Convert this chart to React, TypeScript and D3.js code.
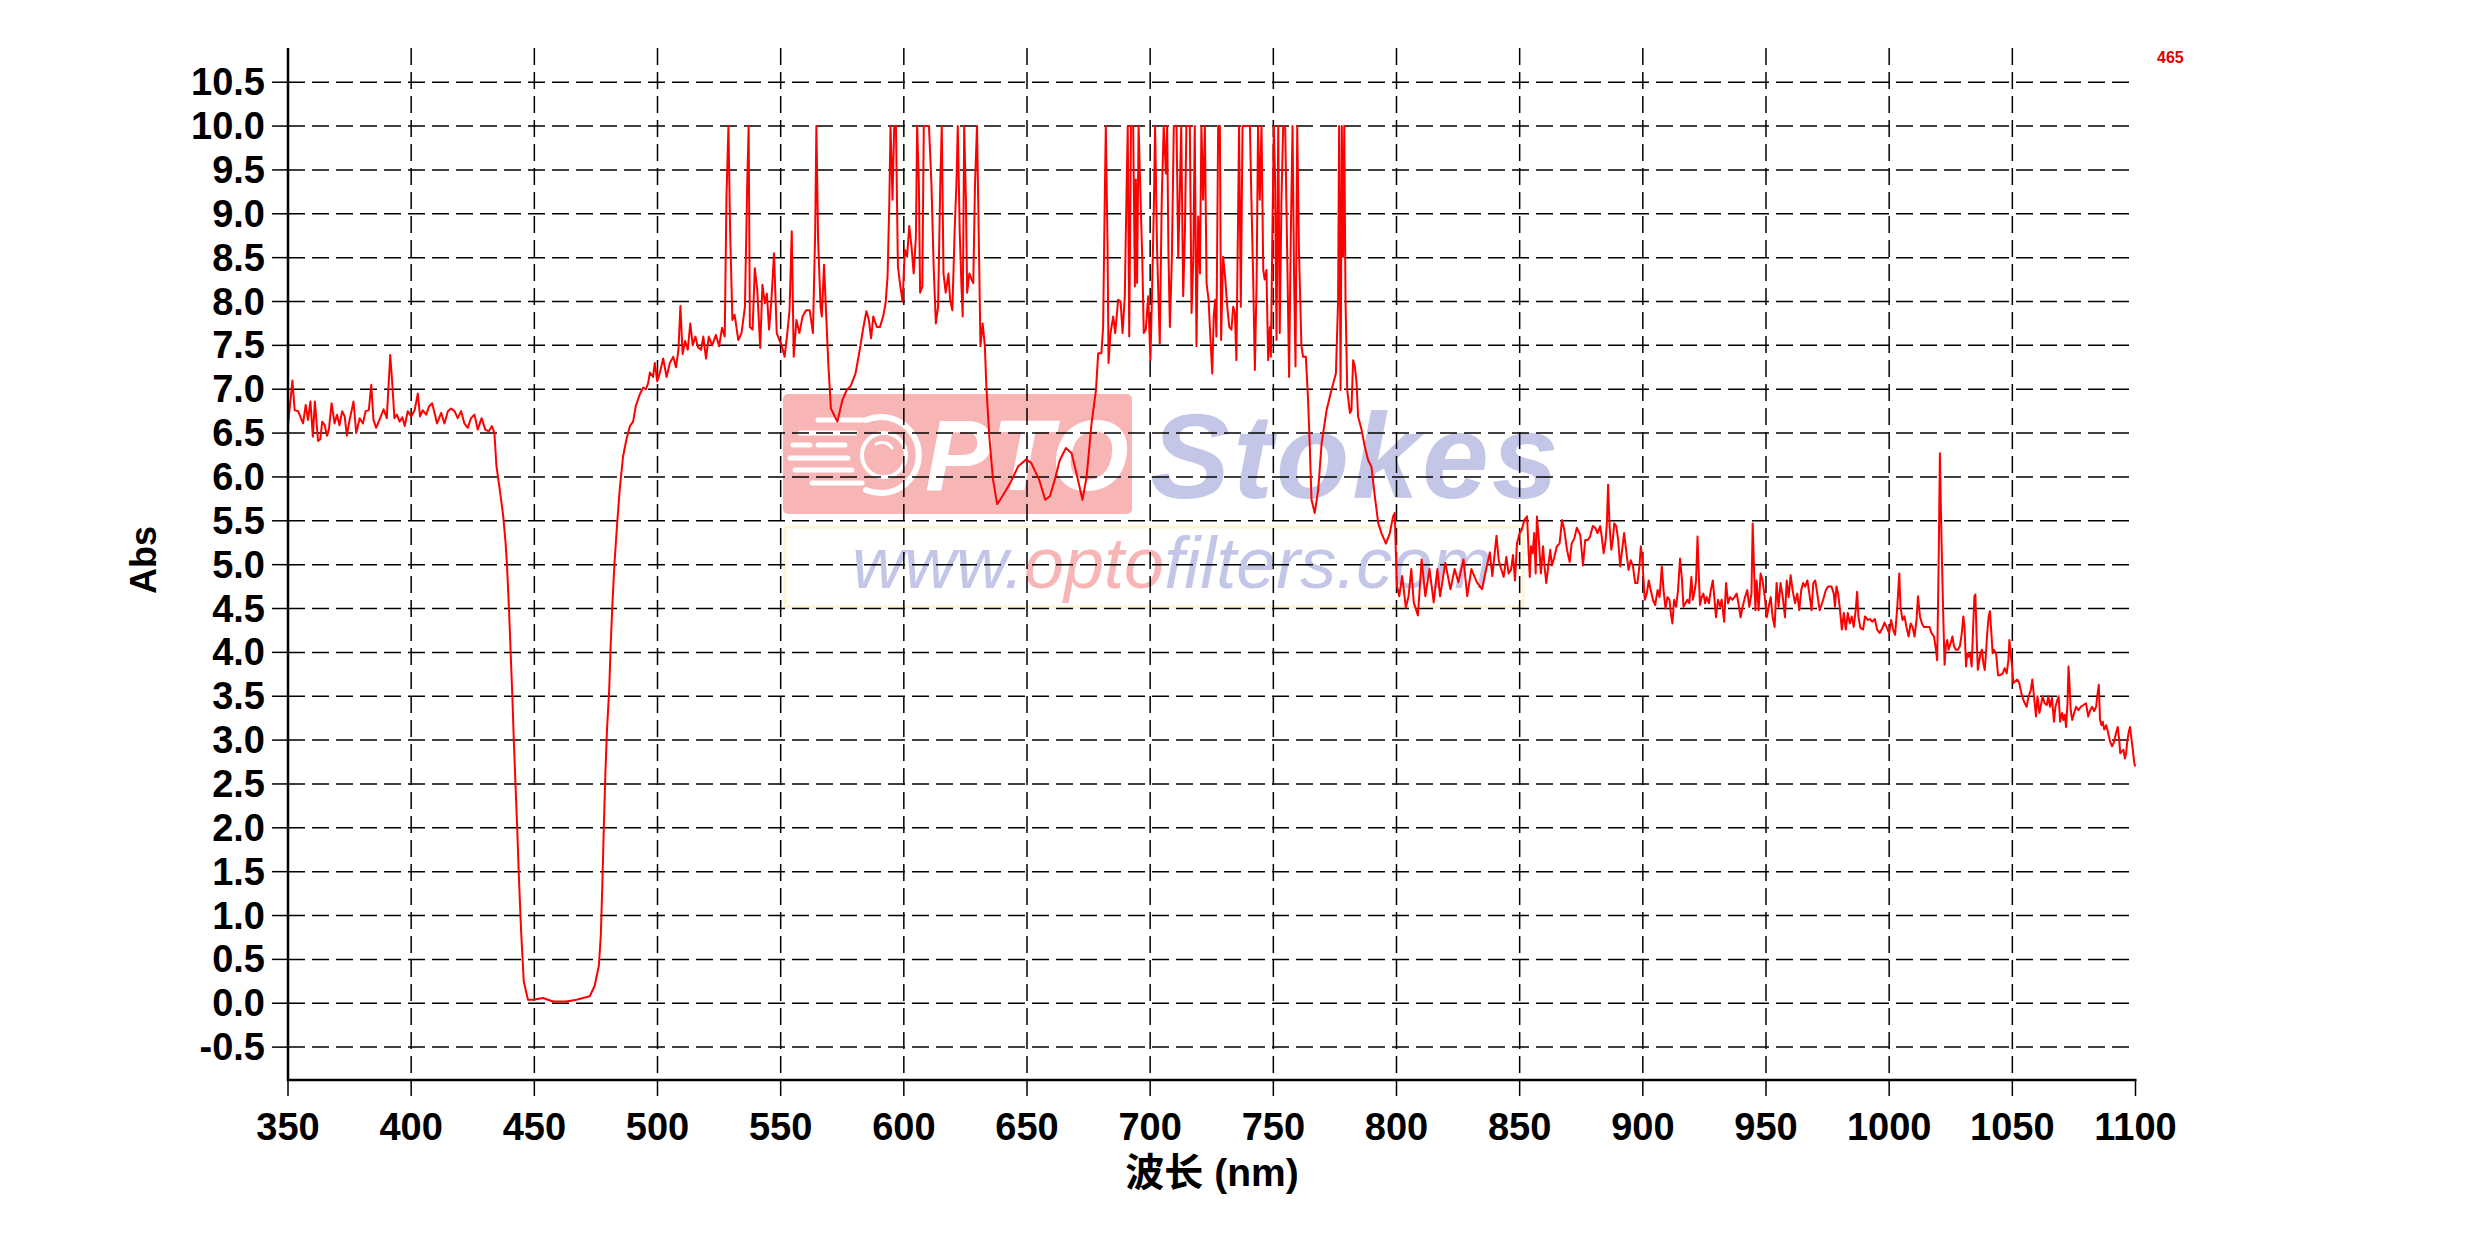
import React from 'react';
import * as d3 from 'd3';

// ---------- data (wavelength nm, absorbance) ----------
const uvPlateau: [number, number][] = [
  [350.0, 6.59], [351.8, 7.10], [352.7, 6.76], [354.1, 6.75], [356.1, 6.61], [357.2, 6.82], [358.1, 6.65], [359.1, 6.86],
  [360.1, 6.46], [360.9, 6.86], [362.2, 6.41], [363.1, 6.43], [363.9, 6.63], [364.9, 6.59], [365.8, 6.47], [366.6, 6.54],
  [367.7, 6.84], [368.9, 6.61], [369.9, 6.71], [370.9, 6.59], [372.0, 6.75], [373.0, 6.69], [373.9, 6.47], [375.0, 6.65],
  [376.6, 6.86], [377.7, 6.50], [379.1, 6.67], [380.4, 6.61], [381.5, 6.75], [382.8, 6.76], [383.8, 7.05], [384.7, 6.65],
  [385.8, 6.56], [387.4, 6.67], [388.8, 6.77], [390.1, 6.67], [391.5, 7.39], [392.3, 7.08], [393.2, 6.67], [394.2, 6.71],
  [395.3, 6.63], [396.4, 6.68], [397.4, 6.58], [398.6, 6.75], [400.0, 6.69], [401.4, 6.76], [402.7, 6.95], [403.6, 6.69],
  [404.7, 6.76], [406.1, 6.71], [407.2, 6.80], [408.5, 6.84], [409.5, 6.73], [410.5, 6.61], [412.2, 6.73], [413.5, 6.61],
  [414.9, 6.75], [416.2, 6.78], [417.6, 6.75], [418.9, 6.67], [420.3, 6.75], [421.6, 6.61], [423.0, 6.56], [424.3, 6.67],
  [425.7, 6.71], [427.0, 6.54], [428.6, 6.67], [430.1, 6.54], [431.5, 6.52], [432.8, 6.58], [433.8, 6.50],
];

const notchBand: [number, number][] = [
  [434.6, 6.13], [435.9, 5.87], [437.3, 5.57], [438.3, 5.26], [438.9, 5.0], [439.7, 4.5], [440.4, 3.99], [441.1, 3.48],
  [441.7, 2.97], [442.4, 2.46], [443.1, 1.95], [443.8, 1.39], [444.6, 0.84], [445.7, 0.25], [447.4, 0.04], [449.5, 0.04],
  [453.5, 0.06], [457.6, 0.02], [463.0, 0.02], [467.1, 0.04], [472.5, 0.08], [474.5, 0.2], [476.2, 0.43], [477.0, 0.78],
  [477.6, 1.34], [478.2, 2.0], [478.9, 2.67], [479.5, 3.12], [480.4, 3.58], [481.0, 4.09], [481.7, 4.55], [482.5, 5.0],
  [483.6, 5.46], [484.7, 5.87], [486.0, 6.23], [487.4, 6.43], [488.8, 6.58], [490.1, 6.63], [491.2, 6.81], [492.8, 6.94],
  [494.2, 7.02], [495.3, 7.0], [496.2, 7.07], [496.9, 7.19], [498.2, 7.14], [498.9, 7.30], [499.9, 7.09], [501.0, 7.19],
  [502.3, 7.35], [503.7, 7.14], [505.0, 7.30], [506.4, 7.37],
];

const greenBand: [number, number][] = [
  [507.5, 7.25], [508.5, 7.45], [509.3, 7.95], [510.2, 7.4], [511.2, 7.55], [512.3, 7.45], [513.3, 7.75], [514.3, 7.5],
  [515.4, 7.6], [516.4, 7.48], [517.7, 7.45], [518.6, 7.6], [519.7, 7.35], [520.8, 7.6], [522.2, 7.5], [523.7, 7.62],
  [525.0, 7.49], [526.2, 7.70], [527.3, 7.6], [528.0, 9.2], [528.8, 10.0], [529.5, 8.78], [530.4, 7.79], [531.3, 7.85],
  [532.8, 7.56], [534.1, 7.64], [535.5, 7.94], [536.4, 9.31], [537.0, 10.0], [537.5, 7.71], [538.6, 7.68], [539.5, 8.38],
  [540.5, 8.13], [541.7, 7.47], [542.6, 8.19], [543.6, 7.98], [544.4, 8.09], [545.3, 7.68], [546.2, 8.0], [547.3, 8.55],
  [548.4, 7.64], [549.5, 7.56], [550.5, 7.49], [551.6, 7.37], [552.7, 7.64], [553.6, 7.9], [554.5, 8.80], [555.3, 7.37],
  [556.4, 7.79], [557.6, 7.64], [558.9, 7.83], [560.3, 7.9], [561.8, 7.9], [563.1, 7.64], [564.0, 8.78], [564.5, 10.0],
  [565.2, 8.70], [566.2, 7.94], [566.7, 7.83], [567.6, 8.42], [568.5, 7.83], [569.4, 7.26], [570.4, 6.78], [573.0, 6.63],
  [575.1, 6.88], [576.8, 6.99], [578.3, 7.03], [580.4, 7.18], [582.1, 7.45], [583.6, 7.71], [584.8, 7.89], [585.8, 7.79],
  [586.7, 7.58], [587.6, 7.83], [589.0, 7.71], [590.3, 7.71], [591.6, 7.83], [592.6, 7.98], [593.4, 8.29], [594.1, 9.12],
  [594.6, 10.0], [595.4, 9.16], [596.1, 10.0], [596.8, 10.0], [597.6, 8.40], [598.6, 8.17], [599.5, 8.0], [600.4, 8.59],
  [601.3, 8.51], [602.2, 8.86], [603.1, 8.63], [604.0, 8.32], [604.9, 8.74], [605.4, 10.0], [606.1, 9.35], [606.6, 8.1],
  [607.5, 8.17], [608.1, 10.0], [610.2, 10.0], [611.2, 9.35], [612.1, 8.4], [613.0, 7.75], [613.9, 7.94], [614.8, 9.35],
  [615.4, 10.0], [616.1, 8.32], [617.0, 8.1], [618.1, 8.32], [618.8, 8.02], [619.7, 7.9], [620.6, 8.78], [621.4, 9.39],
  [621.9, 10.0], [622.7, 8.78], [623.4, 8.17], [623.9, 7.83], [624.5, 10.0], [625.2, 9.16], [625.7, 8.1], [626.6, 8.32],
  [627.5, 8.25], [628.2, 8.21], [628.9, 9.35], [629.7, 10.0], [630.4, 8.78], [631.1, 7.49], [632.0, 7.75], [632.9, 7.49],
  [633.5, 7.03],
];

const redDip: [number, number][] = [
  [634.7, 6.46], [636.2, 5.97], [637.9, 5.69], [640.0, 5.78], [643.2, 5.93], [646.4, 6.12], [649.6, 6.20], [651.7, 6.16],
  [654.9, 5.97], [657.4, 5.74], [659.3, 5.78], [661.3, 5.97], [663.3, 6.19], [665.8, 6.33], [668.1, 6.27], [670.1, 6.04],
  [672.5, 5.74], [674.2, 6.0], [676.2, 6.61],
];

const deepRedBand: [number, number][] = [
  [678.0, 6.99], [678.9, 7.41], [680.2, 7.41], [680.9, 7.71], [681.6, 9.24], [682.0, 10.0], [682.7, 8.63], [683.1, 7.30],
  [683.9, 7.64], [685.0, 7.83], [685.8, 7.64], [687.0, 8.02], [688.0, 8.0], [688.8, 7.64], [689.7, 8.06], [690.4, 9.24],
  [690.9, 10.0], [691.5, 7.60], [692.2, 10.0], [693.1, 10.0], [693.8, 8.17], [694.2, 9.39], [694.7, 8.21], [695.3, 10.0],
  [696.1, 9.16], [696.8, 8.48], [697.4, 7.64], [698.2, 7.68], [699.2, 8.06], [700.1, 7.33], [700.7, 8.02], [701.5, 9.08],
  [702.0, 10.0], [702.8, 8.59], [703.9, 7.52], [704.7, 9.16], [705.5, 10.0], [706.4, 9.46], [706.9, 10.0], [707.4, 8.59],
  [708.0, 7.71], [708.8, 8.48], [709.6, 10.0], [710.7, 10.0], [711.4, 8.51], [712.0, 9.2], [712.6, 10.0], [713.4, 8.06],
  [714.1, 8.78], [714.7, 10.0], [716.1, 10.0], [716.8, 7.87], [717.5, 8.48], [718.1, 10.0], [718.8, 7.49], [719.5, 8.97],
  [720.2, 8.32], [720.8, 10.0], [721.5, 9.16], [722.2, 10.0], [722.9, 8.21], [723.7, 8.02], [724.5, 7.56], [725.2, 7.18],
  [725.8, 7.83], [726.4, 8.02], [726.9, 7.60], [727.6, 10.0], [728.3, 10.0], [728.8, 7.56], [729.6, 8.51], [730.4, 8.29],
  [731.3, 7.94], [732.1, 7.71], [733.0, 7.68], [733.7, 7.94], [734.4, 7.87], [735.0, 7.33], [735.7, 9.01], [736.1, 10.0],
  [736.8, 7.94], [737.5, 10.0], [738.4, 10.0], [740.5, 10.0], [741.1, 9.16], [741.8, 8.29], [742.5, 7.22], [743.2, 8.21],
  [743.8, 10.0], [744.5, 9.16], [745.2, 10.0], [745.9, 8.36], [746.5, 8.25], [747.2, 8.36], [747.9, 7.33], [748.6, 7.71],
  [749.0, 7.37], [749.7, 8.97], [750.2, 10.0], [750.7, 9.43], [751.3, 7.56], [752.0, 10.0], [752.6, 7.64], [753.3, 9.16],
  [754.0, 10.0], [754.8, 10.0], [755.6, 8.59], [756.4, 7.14], [757.1, 8.78], [757.8, 10.0], [758.4, 8.32], [759.0, 7.26],
  [759.7, 10.0], [760.4, 8.59], [761.4, 7.49], [762.1, 7.37], [763.2, 7.37], [764.1, 6.88], [764.8, 6.35], [765.5, 5.74],
  [766.8, 5.59], [768.2, 5.85], [769.6, 6.38], [771.6, 6.76], [773.6, 6.99], [775.4, 7.18], [776.3, 8.02], [776.7, 10.0],
  [777.3, 6.99], [777.8, 10.0], [778.3, 8.51], [778.8, 10.0], [779.3, 8.02], [780.0, 6.99], [781.1, 6.73], [781.7, 6.76],
  [782.4, 7.33], [783.1, 7.26], [783.8, 7.07], [784.4, 6.69], [785.8, 6.54], [787.1, 6.35], [788.5, 6.19], [789.8, 6.12],
  [791.2, 5.78], [792.6, 5.47], [793.9, 5.36], [795.7, 5.24], [797.3, 5.36], [798.6, 5.55], [799.3, 5.59], [799.7, 5.17],
];

const nirLow: [number, number][] = [
  [800.2, 4.76], [801.1, 4.64], [802.3, 4.87], [803.8, 4.51], [804.9, 4.64], [806.0, 4.95], [807.0, 4.57], [808.7, 4.42],
  [810.2, 5.06], [811.7, 4.64], [813.4, 4.95], [815.1, 4.57], [816.6, 4.95], [817.7, 4.64], [819.8, 5.02], [821.9, 4.72],
  [823.6, 4.95], [825.1, 4.80], [827.2, 5.06], [828.7, 4.64], [830.4, 4.95], [832.6, 4.80], [834.7, 4.72], [836.4, 4.95],
  [837.9, 5.14], [838.9, 4.87], [840.6, 5.33], [841.5, 5.05],
];

const nirMid: [number, number][] = [
  [842.2, 4.98], [843.5, 4.86], [844.6, 5.09], [845.5, 4.90], [846.5, 4.94], [847.3, 5.11], [848.1, 4.82], [848.9, 5.24],
  [850.0, 5.36], [850.9, 5.40], [851.9, 5.51], [853.0, 5.55], [853.6, 5.17], [854.1, 4.86], [854.6, 5.21], [855.3, 5.13],
  [855.9, 5.36], [856.5, 4.90], [857.0, 5.55], [857.8, 5.28], [858.6, 4.90], [859.5, 5.21], [860.1, 4.98], [860.8, 4.79],
  [861.6, 4.98], [862.4, 5.17], [863.1, 4.99], [864.1, 5.09], [865.1, 5.21], [866.2, 5.24], [867.2, 5.51], [868.1, 5.40],
  [869.2, 5.17], [870.3, 5.03], [871.1, 5.24], [872.2, 5.30], [873.2, 5.42], [874.6, 5.34], [875.7, 4.99], [876.6, 5.28],
  [877.6, 5.28], [878.6, 5.32], [879.7, 5.44], [880.7, 5.42], [881.6, 5.36], [882.7, 5.44], [883.4, 5.30], [884.1, 5.13],
  [884.9, 5.28], [885.4, 5.47], [885.9, 5.91], [886.5, 5.44], [887.2, 5.17], [887.8, 5.28], [888.4, 5.47], [889.2, 5.44],
  [890.0, 5.28], [890.8, 4.98], [891.6, 5.17], [892.4, 5.36], [893.2, 5.17], [894.2, 4.94], [895.1, 5.05], [896.0, 4.98],
  [896.9, 4.79], [897.8, 4.79], [898.6, 4.98], [899.2, 5.21], [899.7, 5.09], [900.3, 4.82], [900.8, 4.60], [901.6, 4.67],
  [902.4, 4.82], [903.2, 4.71], [904.1, 4.60], [905.0, 4.54], [906.0, 4.71], [906.8, 4.63], [907.7, 4.98], [908.4, 4.71],
  [909.2, 4.50], [910.0, 4.63], [910.8, 4.60], [911.4, 4.44], [912.0, 4.33], [912.7, 4.60], [913.5, 4.52], [914.3, 4.71],
  [915.1, 5.07], [915.9, 4.82], [916.5, 4.52], [917.3, 4.56], [918.1, 4.60], [918.9, 4.56], [919.7, 4.86], [920.3, 4.60],
  [921.1, 4.71], [921.6, 4.82], [922.2, 5.32], [922.7, 4.90], [923.2, 4.54], [923.9, 4.63], [924.6, 4.67], [925.3, 4.56],
  [925.9, 4.63], [926.8, 4.56], [927.6, 4.71], [928.4, 4.82], [929.1, 4.60], [929.7, 4.40], [930.5, 4.60], [931.4, 4.52],
  [932.0, 4.60], [933.0, 4.35], [933.8, 4.79], [934.6, 4.56], [935.4, 4.63], [936.4, 4.60], [937.2, 4.63], [938.1, 4.67],
  [938.8, 4.56], [939.7, 4.40], [940.5, 4.52], [941.5, 4.63], [942.4, 4.71], [943.2, 4.52], [944.1, 4.67], [944.6, 5.47],
  [945.1, 4.98], [945.7, 4.48], [946.2, 4.82], [947.0, 4.48], [947.8, 4.90], [948.6, 4.82], [949.5, 4.63], [950.3, 4.40],
  [951.1, 4.52], [951.9, 4.63], [952.7, 4.40], [953.5, 4.29], [954.3, 4.79], [955.1, 4.52], [955.9, 4.79], [956.8, 4.63],
  [957.7, 4.40], [958.4, 4.82], [959.2, 4.63], [960.0, 4.88], [960.8, 4.71], [961.8, 4.56], [962.7, 4.67], [963.5, 4.48],
  [964.3, 4.71], [965.1, 4.79], [965.9, 4.75], [966.8, 4.82], [967.6, 4.67], [968.5, 4.48], [969.2, 4.79], [970.0, 4.82],
  [970.8, 4.67],
];

const nirHigh: [number, number][] = [
  [971.8, 4.48], [973.2, 4.60], [974.3, 4.71], [975.2, 4.75], [976.6, 4.75], [977.5, 4.67], [978.0, 4.52], [978.6, 4.75],
  [979.3, 4.67], [979.9, 4.52], [980.8, 4.26], [981.6, 4.45], [982.4, 4.26], [983.2, 4.45], [984.0, 4.33], [984.8, 4.41],
  [985.6, 4.29], [986.4, 4.48], [987.0, 4.69], [987.5, 4.41], [988.3, 4.28], [989.4, 4.26], [990.2, 4.41], [991.3, 4.37],
  [992.1, 4.38], [993.2, 4.35], [994.2, 4.38], [995.1, 4.26], [996.2, 4.22], [997.3, 4.28], [998.1, 4.34], [998.9, 4.29],
  [1000.0, 4.22], [1000.8, 4.37], [1001.6, 4.26], [1002.4, 4.20], [1003.3, 4.52], [1004.1, 4.90], [1004.6, 4.52],
  [1005.4, 4.37], [1006.2, 4.41], [1007.0, 4.29], [1007.9, 4.18], [1008.7, 4.33], [1009.5, 4.29], [1010.3, 4.18],
  [1011.1, 4.37], [1011.7, 4.64], [1012.5, 4.41], [1013.3, 4.33], [1014.1, 4.29], [1015.2, 4.29], [1016.3, 4.29],
  [1017.2, 4.22], [1018.2, 4.18], [1019.0, 4.03], [1019.5, 3.91], [1020.1, 5.06], [1020.6, 6.27], [1021.0, 5.63],
  [1021.4, 5.09], [1022.0, 4.37], [1022.5, 3.86], [1023.0, 4.07], [1023.6, 4.14], [1024.1, 4.03], [1024.9, 4.10],
  [1025.7, 4.18], [1026.3, 4.07], [1027.1, 4.03], [1027.9, 4.03], [1028.7, 4.07], [1029.5, 4.22], [1030.1, 4.41],
  [1030.6, 4.29], [1031.2, 3.84], [1031.7, 3.99], [1032.2, 3.95], [1032.8, 3.99], [1033.5, 3.84], [1034.1, 4.29],
  [1034.6, 4.64], [1035.0, 4.66], [1035.5, 4.18], [1036.0, 3.80], [1036.6, 3.91], [1037.1, 3.99], [1037.7, 4.03],
  [1038.2, 3.88], [1038.8, 3.80], [1039.3, 3.99], [1039.8, 4.22], [1040.4, 4.41], [1040.9, 4.47], [1041.5, 4.22],
  [1042.0, 3.99], [1042.5, 4.03], [1043.4, 3.99], [1044.2, 3.74], [1045.0, 3.74], [1046.1, 3.76], [1046.9, 3.82],
  [1047.7, 3.76], [1048.4, 3.91], [1048.8, 4.14], [1049.3, 3.99], [1049.9, 3.84], [1050.4, 3.65], [1051.2, 3.67],
  [1052.0, 3.69], [1052.8, 3.65], [1053.7, 3.53], [1054.7, 3.44], [1055.8, 3.38], [1056.6, 3.50], [1057.5, 3.57],
  [1058.1, 3.69], [1058.8, 3.50], [1059.6, 3.27], [1060.2, 3.50], [1061.0, 3.31], [1061.5, 3.38], [1062.3, 3.50],
  [1063.1, 3.42], [1064.0, 3.40], [1064.6, 3.50], [1065.3, 3.38], [1066.1, 3.48], [1066.9, 3.21], [1067.5, 3.38],
  [1068.3, 3.46], [1068.8, 3.50], [1069.4, 3.21], [1070.2, 3.31], [1070.7, 3.23], [1071.3, 3.29], [1071.8, 3.15],
  [1072.4, 3.42], [1072.8, 3.84], [1073.2, 3.65], [1073.7, 3.34], [1074.3, 3.23], [1075.1, 3.31], [1075.9, 3.38],
  [1076.8, 3.34], [1077.8, 3.38], [1078.9, 3.40], [1079.9, 3.42], [1080.8, 3.27], [1081.6, 3.34], [1082.4, 3.38],
  [1083.2, 3.33], [1084.0, 3.38], [1084.6, 3.53], [1085.1, 3.63], [1085.6, 3.23], [1086.2, 3.17], [1086.7, 3.21],
  [1087.3, 3.12], [1088.1, 3.17], [1088.9, 3.08], [1089.7, 2.98], [1090.5, 2.93], [1091.3, 2.98], [1092.1, 3.08],
  [1092.8, 3.15], [1093.4, 3.00], [1093.8, 2.85], [1094.4, 2.87], [1095.1, 2.89], [1095.7, 2.79], [1096.2, 2.85],
  [1096.7, 3.00], [1097.3, 3.10], [1097.8, 3.15], [1098.4, 3.00], [1098.9, 2.89], [1099.5, 2.74], [1099.9, 2.70],
];

const xTickValues = [350, 400, 450, 500, 550, 600, 650, 700, 750, 800, 850, 900, 950, 1000, 1050, 1100];
const yTickValues = [-0.5, 0, 0.5, 1, 1.5, 2, 2.5, 3, 3.5, 4, 4.5, 5, 5.5, 6, 6.5, 7, 7.5, 8, 8.5, 9, 9.5, 10, 10.5];
const xTitle = '波长 (nm)';
const yTitle = 'Abs';
const seriesName = '465';

// ---------- layout ----------
const W = 2467;
const H = 1240;
const X0 = 288;
const X1 = 2135.5;
const YTOP = 48;
const YBOT = 1080;
const FONT = '"Liberation Sans", Arial, Helvetica, sans-serif';

export default function App() {
  const x = d3.scaleLinear().domain([350, 1100]).range([X0, X1]);
  const y = d3.scaleLinear().domain([-0.875, 10.89]).range([YBOT, YTOP]);
  const all = [...uvPlateau, ...notchBand, ...greenBand, ...redDip, ...deepRedBand, ...nirLow, ...nirMid, ...nirHigh]
    .sort((a, b) => a[0] - b[0]);
  const line = d3.line<[number, number]>().x(d => x(d[0])).y(d => y(d[1]));
  const path = line(all) || '';

  const lav = '#c3c6e6';
  const pink = '#f7b5b5';

  return (
    <svg width={W} height={H} viewBox={`0 0 ${W} ${H}`}
      style={{ position: 'fixed', left: 0, top: 0, background: '#fff', display: 'block' }}>
      <rect x={0} y={0} width={W} height={H} fill="#fff" />
      {/* watermark */}
      <g>
        <rect x={783} y={394} width={349} height={120} rx={5} fill={pink} />
        <g stroke="#fff" strokeWidth={5} strokeLinecap="round" fill="none">
          <line x1={818} y1={420} x2={862} y2={420} />
          <line x1={800} y1={433} x2={855} y2={433} />
          <line x1={793} y1={445} x2={810} y2={445} />
          <line x1={818} y1={445} x2={845} y2={445} />
          <line x1={790} y1={458} x2={848} y2={458} />
          <line x1={795} y1={470} x2={852} y2={470} />
          <line x1={812} y1={483} x2={862} y2={483} />
          <circle cx={884} cy={455} r={22} strokeWidth={4} />
          <path d="M 876 444 A 12 12 0 0 1 892 448" strokeWidth={3} />
          <path d="M 866 420 A 38 38 0 1 1 866 490" strokeWidth={6} />
        </g>
        <text x={925} y={490} fontFamily={FONT} fontWeight="bold" fontStyle="italic" fontSize={100} fill="#fff">PTO</text>
        <text x={1150} y={498} fontFamily={FONT} fontWeight="bold" fontStyle="italic" fontSize={120} letterSpacing={3} fill={lav}>Stokes</text>
        <rect x={785} y={527} width={738} height={80} fill="none" stroke="#fdf5d2" strokeWidth={3} />
        <text x={852} y={588} fontFamily={FONT} fontStyle="italic" fontSize={72} fill={lav}>
          <tspan>www.</tspan>
          <tspan fill={pink}>opto</tspan>
          <tspan>filters.com</tspan>
        </text>
      </g>

      {/* grid */}
      <g stroke="#000" strokeWidth={1.5} strokeDasharray="17,7" fill="none">
        {yTickValues.map(v => (
          <line key={'gy' + v} x1={X0} x2={X1} y1={y(v)} y2={y(v)} />
        ))}
        {xTickValues.filter(v => v !== 350 && v !== 1100).map(v => (
          <line key={'gx' + v} x1={x(v)} x2={x(v)} y1={YTOP} y2={YBOT} />
        ))}
      </g>

      {/* curve */}
      <path d={path} fill="none" stroke="#ff0000" strokeWidth={2} strokeLinejoin="round" />

      {/* axes */}
      <g stroke="#000" fill="none">
        <line x1={X0} x2={X0} y1={YTOP} y2={YBOT + 1} strokeWidth={2.5} />
        <line x1={X0 - 1} x2={X1 + 1} y1={YBOT} y2={YBOT} strokeWidth={2.5} />
        {xTickValues.map(v => (
          <line key={'tx' + v} x1={x(v)} x2={x(v)} y1={YBOT} y2={YBOT + 16} strokeWidth={1.5} />
        ))}
        {yTickValues.map(v => (
          <line key={'ty' + v} x1={X0 - 16} x2={X0} y1={y(v)} y2={y(v)} strokeWidth={1.5} />
        ))}
      </g>

      {/* tick labels */}
      <g fontFamily={FONT} fontWeight="bold" fontSize={38} fill="#000">
        {yTickValues.map(v => (
          <text key={'ly' + v} x={265} y={y(v)} textAnchor="end" dominantBaseline="central">{v.toFixed(1)}</text>
        ))}
        {xTickValues.map(v => (
          <text key={'lx' + v} x={x(v)} y={1140} textAnchor="middle">{v}</text>
        ))}
      </g>

      {/* titles */}
      <text x={1212} y={1186} textAnchor="middle" fontFamily={'"Liberation Sans", "Noto Sans CJK SC", sans-serif'}
        fontWeight="bold" fontSize={39} fill="#000">{xTitle}</text>
      <text transform="translate(156,560) rotate(-90)" textAnchor="middle" fontFamily={FONT}
        fontWeight="bold" fontSize={36} fill="#000">{yTitle}</text>
      <text x={2157} y={63} fontFamily={FONT} fontWeight="bold" fontSize={16} fill="#e00000">{seriesName}</text>
    </svg>
  );
}
